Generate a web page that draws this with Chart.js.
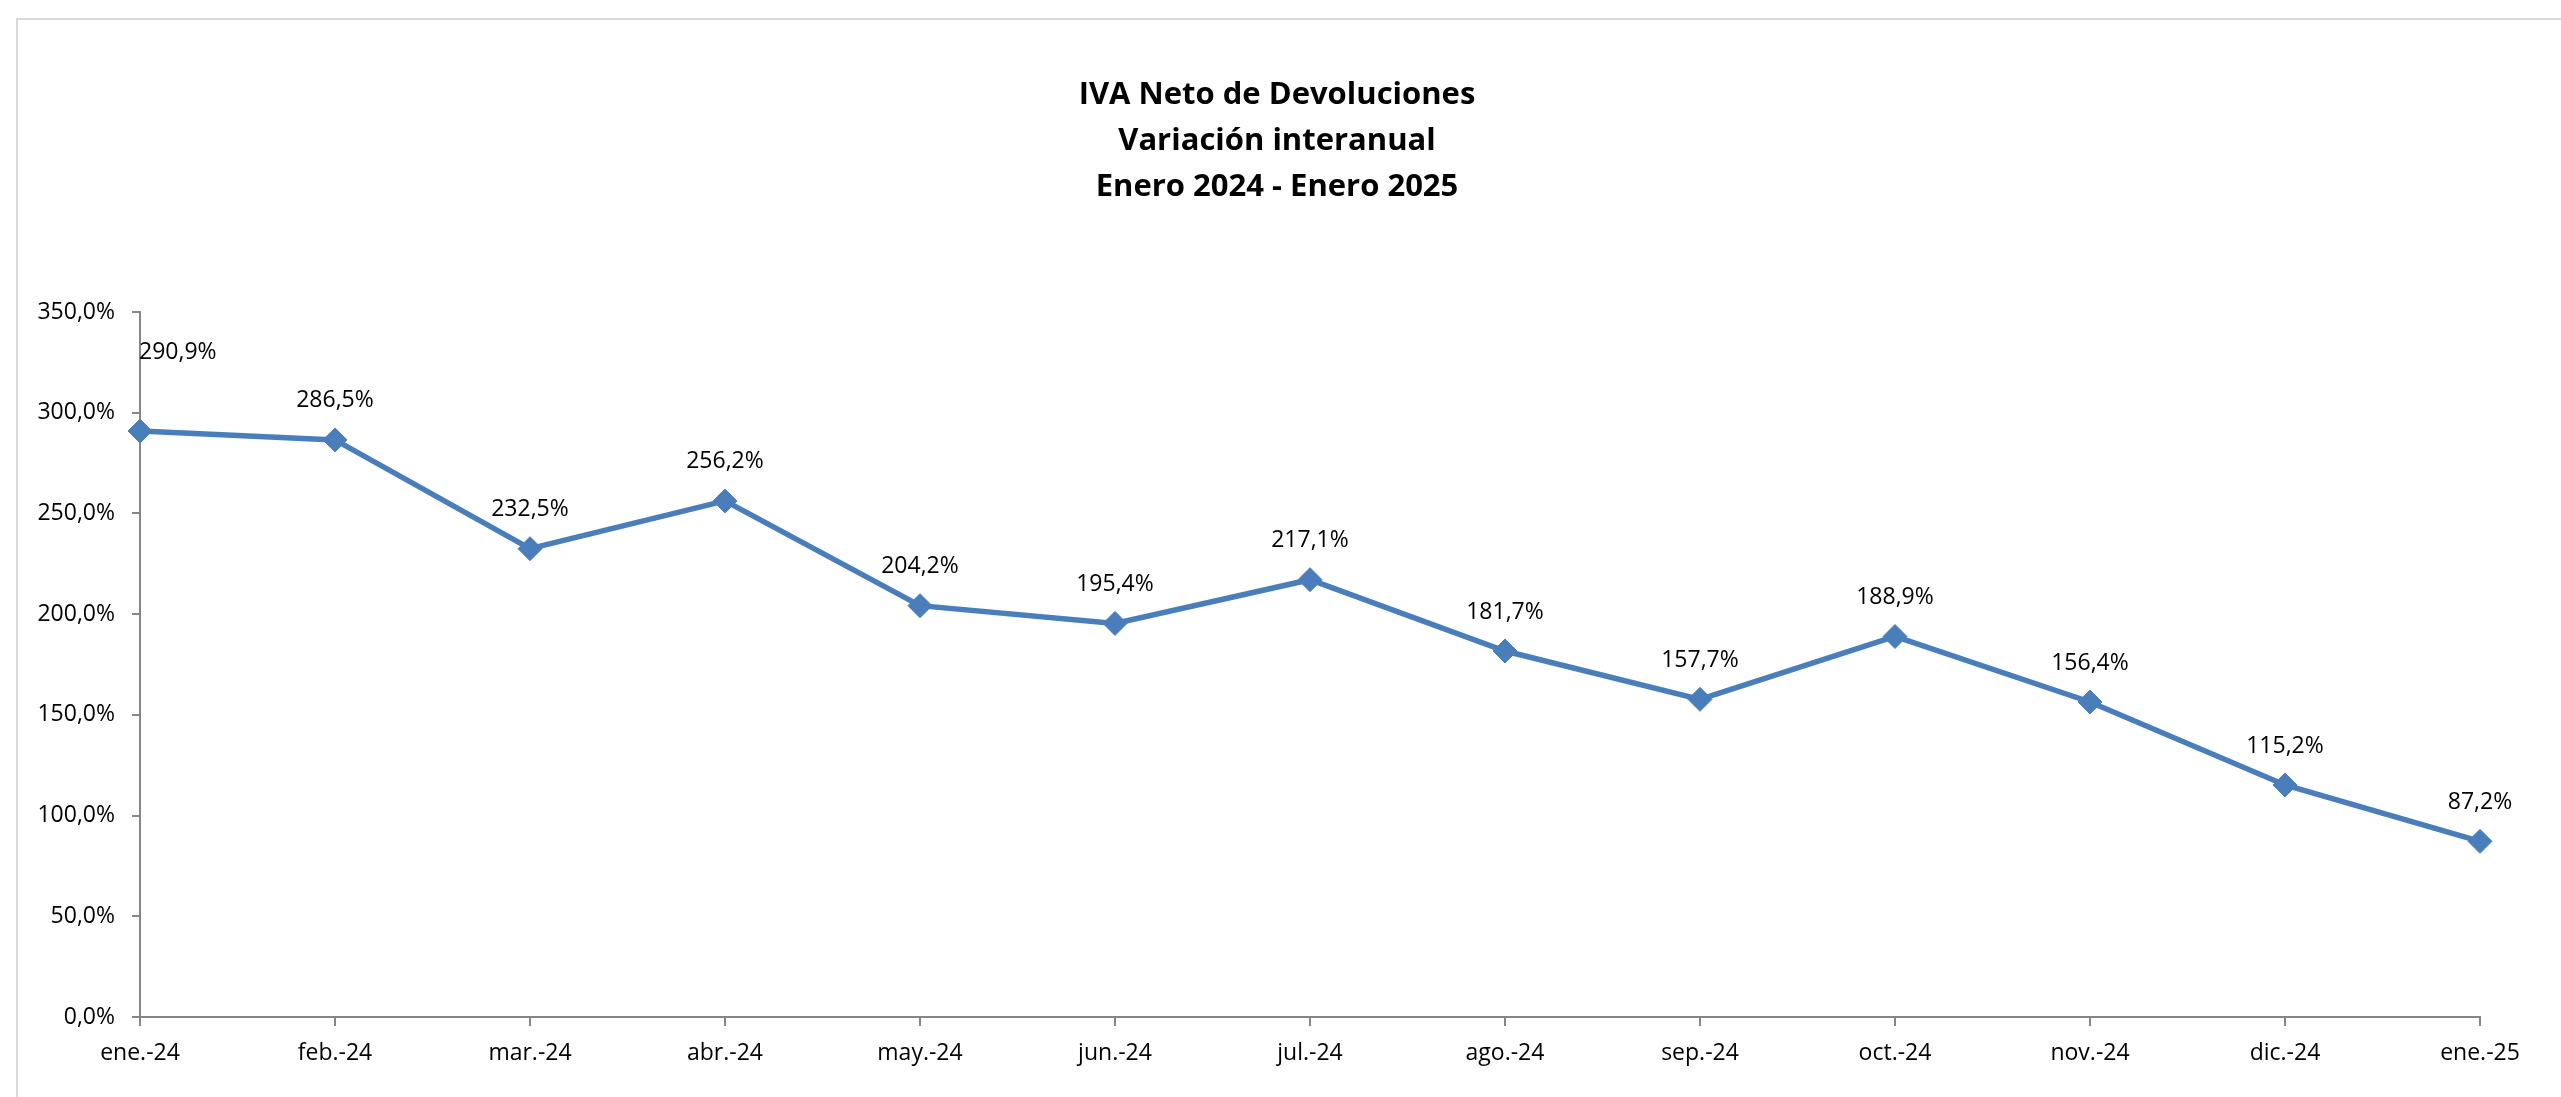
<!DOCTYPE html>
<html>
<head>
<meta charset="utf-8">
<script src="https://cdn.jsdelivr.net/npm/chart.js@4.4.1/dist/chart.umd.min.js"></script>
<style>
  html, body { margin: 0; padding: 0; background: #fff; }
  #wrap { position: relative; width: 2561px; height: 1097px; }
</style>
</head>
<body>
<div id="wrap"><canvas id="chart" width="2561" height="1097"></canvas></div>
<script>
const months = ['ene.-24', 'feb.-24', 'mar.-24', 'abr.-24', 'may.-24', 'jun.-24', 'jul.-24',
  'ago.-24', 'sep.-24', 'oct.-24', 'nov.-24', 'dic.-24', 'ene.-25'];
const variacion = [290.9, 286.5, 232.5, 256.2, 204.2, 195.4, 217.1, 181.7, 157.7, 188.9, 156.4, 115.2, 87.2];
const titleLines = ['IVA Neto de Devoluciones', 'Variación interanual', 'Enero 2024 - Enero 2025'];

const fmt = v => v.toFixed(1).replace('.', ',') + '%';

// outer frame + title, drawn like the spreadsheet chart box
const framePlugin = {
  id: 'frame',
  beforeDraw(chart) {
    const ctx = chart.ctx;
    ctx.save();
    ctx.strokeStyle = '#d9d9d9';
    ctx.lineWidth = 2;
    ctx.beginPath();
    ctx.moveTo(17, chart.height);
    ctx.lineTo(17, 19);
    ctx.lineTo(chart.width, 19);
    ctx.stroke();

    ctx.font = 'bold 31px "Open Sans"';
    ctx.fillStyle = '#000';
    ctx.textAlign = 'center';
    ctx.textBaseline = 'alphabetic';
    titleLines.forEach((line, i) => {
      ctx.fillText(line, 1277, 104 + i * 46);
    });
    ctx.restore();
  }
};

// value labels above each point
const labelPlugin = {
  id: 'valueLabels',
  afterDatasetsDraw(chart) {
    const ctx = chart.ctx;
    const meta = chart.getDatasetMeta(0);
    ctx.save();
    ctx.font = '23px "Open Sans"';
    ctx.fillStyle = '#000';
    ctx.textBaseline = 'middle';
    meta.data.forEach((pt, i) => {
      const txt = fmt(chart.data.datasets[0].data[i]);
      if (i === 0) {
        ctx.textAlign = 'left';
        ctx.fillText(txt, pt.x - 1, pt.y - 79);
      } else {
        ctx.textAlign = 'center';
        ctx.fillText(txt, pt.x, pt.y - 39);
      }
    });
    ctx.restore();
  }
};

const ctx = document.getElementById('chart').getContext('2d');
new Chart(ctx, {
  type: 'line',
  data: {
    labels: months,
    datasets: [{
      data: variacion,
      borderColor: '#4a7ebb',
      backgroundColor: '#4a7ebb',
      borderWidth: 5.5,
      tension: 0,
      pointStyle: 'rectRot',
      pointRadius: 12,
      pointHoverRadius: 12,
      pointBorderWidth: 1,
      pointBorderColor: '#4a7ebb',
      pointBackgroundColor: '#4a7ebb'
    }]
  },
  options: {
    responsive: false,
    animation: false,
    layout: { padding: { left: 0, right: 81, top: 312, bottom: 0 } },
    plugins: {
      legend: { display: false },
      tooltip: { enabled: false },
      title: { display: false }
    },
    scales: {
      x: {
        type: 'category',
        offset: false,
        afterFit: s => { s.height = 80; },
        grid: { display: true, drawOnChartArea: false, drawTicks: true, tickLength: 9, color: '#868686', lineWidth: 2 },
        border: { display: true, color: '#868686', width: 2 },
        ticks: { color: '#000', font: { family: '"Open Sans"', size: 23 }, padding: 14, maxRotation: 0, autoSkip: false }
      },
      y: {
        min: 0,
        max: 350,
        afterFit: s => { s.width = 140; },
        grid: { display: true, drawOnChartArea: false, drawTicks: true, tickLength: 8, color: '#868686', lineWidth: 2 },
        border: { display: true, color: '#868686', width: 2 },
        ticks: { stepSize: 50, color: '#000', font: { family: '"Open Sans"', size: 23 }, padding: 17, callback: v => fmt(v) }
      }
    }
  },
  plugins: [framePlugin, labelPlugin]
});
</script>
</body>
</html>
